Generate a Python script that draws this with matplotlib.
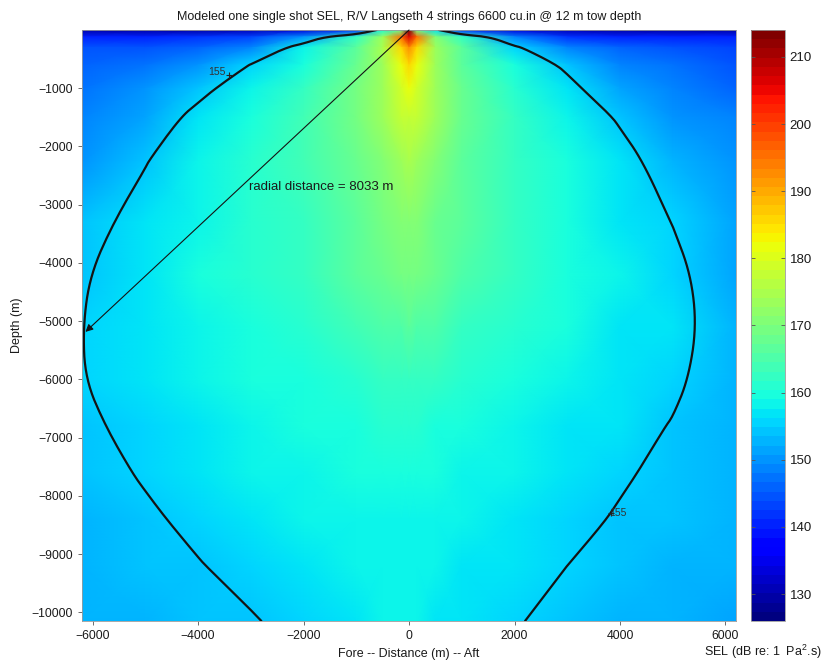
import matplotlib

matplotlib.use("Agg")

import matplotlib.pyplot as plt
import numpy as np

plt.rcParams.update({
    "font.family": ["Liberation Sans", "DejaVu Sans"],
    "mathtext.default": "regular",
    "axes.unicode_minus": True,
})

# --- model grid --------------------------------------------------------------

# along-track distance of each model column (m), negative = fore
distance_m = [-6200, -5000, -4000, -3000, -2000, -1000, -500, -150, 0,
              150, 500, 1000, 2000, 3000, 4000, 5000, 6200]
# depth of each model row (m)
depth_m = [0, -120, -300, -600, -1000, -1500, -2250, -3300, -4200, -5100,
           -6000, -6800, -7600, -8400, -9200, -10150]

# single-shot SEL (dB re 1 uPa^2 s), one list per depth row, columns as above
sel_0m = [129, 129, 130, 131, 133, 142, 159, 168, 214, 168, 157, 142, 133, 131, 130, 129, 129]
sel_120m = [141, 141, 142, 143, 150, 163, 173, 196, 206, 196, 171, 162, 149, 142, 141, 140, 140]
sel_300m = [144, 145, 146, 149, 158, 167, 175, 186, 192, 186, 174, 166, 156, 149, 146, 144, 143]
sel_600m = [146, 147, 150, 155.2, 160, 168, 174, 181, 186, 181, 173, 167, 159, 154, 149, 147, 145]
sel_1000m = [147.5, 150, 153.5, 158, 162, 169, 174, 179, 181, 179, 173, 168, 161, 156.5, 151, 148.5, 146.5]
sel_1500m = [149, 152, 156.5, 159.5, 163.5, 169, 174, 177, 178, 177, 173, 168, 162.5, 158, 154.5, 150, 148]
sel_2250m = [150.5, 154.8, 158, 161, 164, 168, 171, 174, 175, 174, 170.5, 167, 163, 159.5, 156.5, 153, 149.5]
sel_3300m = [153.5, 156.5, 158.5, 160.8, 163, 166.5, 169, 170.5, 171, 170.5, 168.5, 166, 162.5, 160, 157.5, 154.9, 151.5]
sel_4200m = [154.7, 157, 159, 160.8, 162.5, 166, 168, 168.8, 169, 168.8, 167.5, 165.5, 162, 160, 158, 156.2, 152]
sel_5100m = [154.97, 157, 158.5, 160, 161.5, 163.5, 165, 165.8, 166, 165.8, 164.8, 163, 161, 159, 157.5, 156.5, 152.5]
sel_6000m = [154.9, 156.8, 158, 159, 160, 161.5, 162.5, 163, 163, 163, 162.3, 161, 159.5, 158.5, 157, 155.8, 152.5]
sel_6800m = [154.3, 156.2, 157.5, 158.5, 159.5, 160, 160.5, 160.5, 160.5, 160.5, 160, 159.5, 158.5, 157.5, 156.3, 154.8, 152.5]
sel_7600m = [153.5, 155.4, 156.8, 157.8, 158.5, 159, 159.3, 159.5, 159.5, 159.5, 159.2, 158.8, 158, 156.8, 155.5, 154, 152.5]
sel_8400m = [153.2, 154.4, 155.9, 157, 157.8, 158.3, 158.6, 158.8, 158.8, 158.8, 158.5, 158, 157.2, 156.2, 154.6, 153.5, 152.5]
sel_9200m = [152.8, 153.8, 154.8, 156.2, 157.2, 157.8, 158.2, 158.4, 158.4, 158.4, 158, 157.6, 156.5, 155, 154, 153, 152.3]
sel_10150m = [152.5, 153.2, 154, 154.7, 156.2, 157.2, 157.7, 158, 158, 158, 157.6, 157, 155.3, 153.8, 153, 152.5, 152]

SEL_ROWS = [sel_0m, sel_120m, sel_300m, sel_600m, sel_1000m, sel_1500m,
            sel_2250m, sel_3300m, sel_4200m, sel_5100m, sel_6000m, sel_6800m,
            sel_7600m, sel_8400m, sel_9200m, sel_10150m]

CLIM = (126, 214)
CBAR_TICKS = [130, 140, 150, 160, 170, 180, 190, 200, 210]
THRESHOLD_DB = 155

# radius from the source to the far side of the threshold contour
RADIAL_DISTANCE_M = 8033
RADIAL_ANGLE_DEG = 220.2   # pointing fore and down

TITLE = "Modeled one single shot SEL, R/V Langseth 4 strings 6600 cu.in @ 12 m tow depth"

INK = "#1a1a1a"
LINE = "#141414"


def chaikin(pts, n=3):
    """Round off the corners of an open polyline, keeping its ends."""
    for _ in range(n):
        q = 0.75 * pts[:-1] + 0.25 * pts[1:]
        r = 0.25 * pts[:-1] + 0.75 * pts[1:]
        mid = np.empty((2 * len(q), 2))
        mid[0::2], mid[1::2] = q, r
        pts = np.vstack([pts[:1], mid, pts[-1:]])
    return pts


# --- figure ------------------------------------------------------------------

fig = plt.figure(figsize=(8.27, 6.64), dpi=100)
ax = fig.add_axes([0.0992, 0.0648, 0.7908, 0.8900])
cax = fig.add_axes([0.908, 0.0648, 0.041, 0.8900])

X, Y = np.meshgrid(distance_m, depth_m)
Z = np.array(SEL_ROWS, dtype=float)

mesh = ax.pcolormesh(X, Y, Z, cmap=plt.get_cmap("jet", 64),
                     vmin=CLIM[0], vmax=CLIM[1], shading="gouraud",
                     rasterized=True)

# threshold contour, corners of the grid polyline rounded off
cs = ax.contour(X, Y, Z, levels=[THRESHOLD_DB])
segs = [s for s in cs.allsegs[0] if len(s) > 1]
cs.remove()
for seg in segs:
    sm = chaikin(np.asarray(seg, float))
    ax.plot(sm[:, 0], sm[:, 1], color=LINE, lw=1.6, solid_capstyle="round")

# contour labels, "+" marker next to the value
lab = f"{THRESHOLD_DB:g}"
ax.plot([-3410], [-775], marker="+", ms=4, mew=0.8, color="#222222")
ax.text(-3480, -720, lab, ha="right", va="center", fontsize=7.5,
        color="#333333")
ax.plot([3826], [-8300], marker="+", ms=4, mew=0.8, color="#222222")
ax.text(3800, -8300, lab, ha="left", va="center", fontsize=7.5,
        color="#333333")

# radial distance arrow from the source
ang = np.deg2rad(RADIAL_ANGLE_DEG)
end = (RADIAL_DISTANCE_M * np.cos(ang), RADIAL_DISTANCE_M * np.sin(ang))
ax.annotate("", xy=end, xytext=(0, 0),
            arrowprops=dict(arrowstyle="-|>", color=LINE, lw=0.8,
                            mutation_scale=11, shrinkA=0, shrinkB=0))
ax.text(-3030, -2700, f"radial distance = {RADIAL_DISTANCE_M} m",
        fontsize=9.5, color=INK, va="center")

ax.set_xlim(-6200, 6200)
ax.set_ylim(-10150, 0)
ax.set_xticks(np.arange(-6000, 6001, 2000))
ax.set_yticks(np.arange(-10000, -999, 1000))
ax.tick_params(direction="out", length=3, width=0.6, color="#555555",
               labelsize=8.8, labelcolor=INK)
for s in ax.spines.values():
    s.set_color("#9a9a9a")
    s.set_linewidth(0.6)

ax.set_title(TITLE, fontsize=9, color=INK, pad=7)
ax.set_xlabel("Fore -- Distance (m) -- Aft", fontsize=9, color=INK,
              labelpad=4)
ax.set_ylabel("Depth (m)", fontsize=9, color=INK, labelpad=6)

cb = fig.colorbar(mesh, cax=cax, ticks=CBAR_TICKS)
cb.outline.set_edgecolor("#9a9a9a")
cb.outline.set_linewidth(0.6)
cb.ax.tick_params(direction="in", length=3, width=0.6, color="#555555",
                  labelsize=9.5, labelcolor=INK, left=True, right=True)
fig.text(0.994, 0.004, "SEL (dB re: 1  Pa$^2$.s)", ha="right", va="bottom",
         fontsize=9, color=INK)

fig.savefig("out.png", dpi=100)
